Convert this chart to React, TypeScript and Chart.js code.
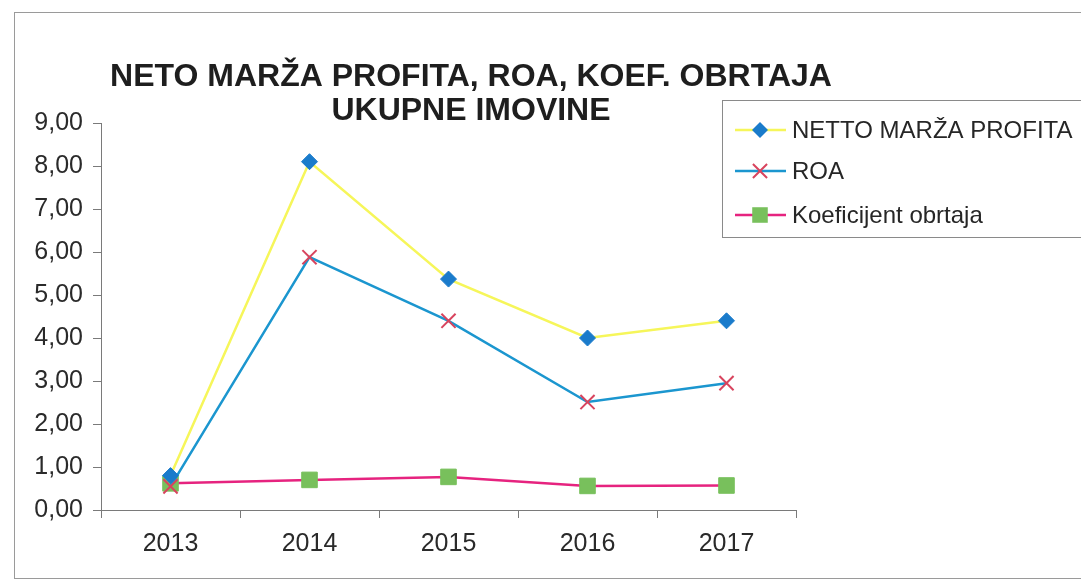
import React, { useEffect, useRef } from "react";
import { Chart, registerables } from "chart.js";

Chart.register(...registerables);

const categories = ["2013", "2014", "2015", "2016", "2017"];
const nettoMarza = [0.8, 8.1, 5.37, 4.0, 4.4];
const roa = [0.55, 5.88, 4.4, 2.51, 2.95];
const koeficijent = [0.62, 0.7, 0.77, 0.56, 0.57];
const seriesNames = ["NETTO MARŽA PROFITA", "ROA", "Koeficijent obrtaja"];
const titleLines = ["NETO MARŽA PROFITA, ROA, KOEF. OBRTAJA", "UKUPNE IMOVINE"];

const FONT = "'Liberation Sans', Arial, sans-serif";

function drawMarker(ctx: CanvasRenderingContext2D, ds: any, x: number, y: number) {
  const style = ds.pointStyle;
  const r = ds.pointRadius;
  ctx.save();
  ctx.fillStyle = ds.pointBackgroundColor;
  ctx.strokeStyle = ds.pointBorderColor;
  ctx.lineWidth = ds.pointBorderWidth || 1;
  ctx.beginPath();
  if (style === "rectRot") {
    ctx.moveTo(x, y - r);
    ctx.lineTo(x + r, y);
    ctx.lineTo(x, y + r);
    ctx.lineTo(x - r, y);
    ctx.closePath();
    ctx.fill();
  } else if (style === "rect") {
    const s = r * Math.SQRT1_2;
    ctx.rect(x - s, y - s, 2 * s, 2 * s);
    ctx.fill();
  } else if (style === "crossRot") {
    const s = r * Math.SQRT1_2;
    ctx.moveTo(x - s, y - s);
    ctx.lineTo(x + s, y + s);
    ctx.moveTo(x - s, y + s);
    ctx.lineTo(x + s, y - s);
    ctx.stroke();
  }
  ctx.restore();
}

const overlayPlugin = {
  id: "overlay",
  afterDraw(chart: any) {
    const ctx: CanvasRenderingContext2D = chart.ctx;
    const area = chart.chartArea;
    ctx.save();
    // title
    ctx.fillStyle = "#1e1e1e";
    ctx.font = `bold 32px ${FONT}`;
    ctx.textAlign = "center";
    ctx.textBaseline = "middle";
    const cx = area.left + 370;
    ctx.fillText(titleLines[0], cx, 77);
    ctx.fillText(titleLines[1], cx, 111);

    // legend
    const lx = 722;
    const ly = 100;
    ctx.fillStyle = "#ffffff";
    ctx.fillRect(lx, ly, 400, 137);
    ctx.strokeStyle = "#8a8a8a";
    ctx.lineWidth = 1;
    ctx.strokeRect(lx + 0.5, ly + 0.5, 400, 137);
    const rows = [130, 171, 215];
    chart.data.datasets.forEach((ds: any, i: number) => {
      const y = rows[i];
      ctx.strokeStyle = ds.borderColor;
      ctx.lineWidth = ds.borderWidth;
      ctx.beginPath();
      ctx.moveTo(735, y);
      ctx.lineTo(786, y);
      ctx.stroke();
      drawMarker(ctx, ds, 760, y);
      ctx.fillStyle = "#262626";
      ctx.font = `24px ${FONT}`;
      ctx.textAlign = "left";
      ctx.textBaseline = "middle";
      ctx.fillText(ds.label, 792, y + 1);
    });
    ctx.restore();
  },
};

export default function App() {
  const ref = useRef<HTMLCanvasElement | null>(null);

  useEffect(() => {
    if (!ref.current) return;
    const chart = new Chart(ref.current, {
      type: "line",
      data: {
        labels: categories,
        datasets: [
          {
            label: seriesNames[0],
            data: nettoMarza,
            borderColor: "#f6f65a",
            borderWidth: 2.5,
            pointStyle: "rectRot",
            pointRadius: 8,
            pointBackgroundColor: "#1a7bcb",
            pointBorderColor: "#1a7bcb",
            pointBorderWidth: 1,
            tension: 0,
          },
          {
            label: seriesNames[1],
            data: roa,
            borderColor: "#1b96cf",
            borderWidth: 2.5,
            pointStyle: "crossRot",
            pointRadius: 10,
            pointBackgroundColor: "#d8445e",
            pointBorderColor: "#d8445e",
            pointBorderWidth: 2,
            tension: 0,
          },
          {
            label: seriesNames[2],
            data: koeficijent,
            borderColor: "#e6237f",
            borderWidth: 2.5,
            pointStyle: "rect",
            pointRadius: 11,
            pointBackgroundColor: "#78c05c",
            pointBorderColor: "#78c05c",
            pointBorderWidth: 1,
            tension: 0,
          },
        ],
      },
      options: {
        responsive: false,
        animation: false,
        layout: { padding: { top: 123, right: 285, left: 0, bottom: 0 } },
        plugins: {
          legend: { display: false },
          title: { display: false },
          tooltip: { enabled: false },
        },
        scales: {
          x: {
            offset: true,
            grid: {
              offset: true,
              drawOnChartArea: false,
              drawTicks: true,
              tickLength: 8,
              color: "#7a7a7a",
            },
            border: { color: "#7a7a7a", width: 1 },
            ticks: {
              color: "#2a2a2a",
              font: { family: FONT, size: 25 },
              padding: 11,
              maxRotation: 0,
            },
            afterFit(scale: any) {
              scale.height = 72;
            },
          },
          y: {
            min: 0,
            max: 9,
            grid: {
              drawOnChartArea: false,
              drawTicks: true,
              tickLength: 8,
              color: "#7a7a7a",
            },
            border: { color: "#7a7a7a", width: 1 },
            ticks: {
              stepSize: 1,
              color: "#2a2a2a",
              font: { family: FONT, size: 25 },
              padding: 10,
              callback: (v: any) => Number(v).toFixed(2).replace(".", ","),
            },
            afterFit(scale: any) {
              scale.width = 101;
            },
          },
        },
      },
      plugins: [overlayPlugin],
    });
    return () => chart.destroy();
  }, []);

  return (
    <div style={{ position: "fixed", left: 0, top: 0, width: 1081, height: 582, background: "#fff", overflow: "hidden" }}>
      <div
        style={{
          position: "absolute",
          left: 14,
          top: 12,
          width: 1200,
          height: 567,
          border: "1px solid #9a9a9a",
          boxSizing: "border-box",
        }}
      />
      <canvas ref={ref} width={1081} height={582} style={{ position: "absolute", left: 0, top: 0 }} />
    </div>
  );
}
